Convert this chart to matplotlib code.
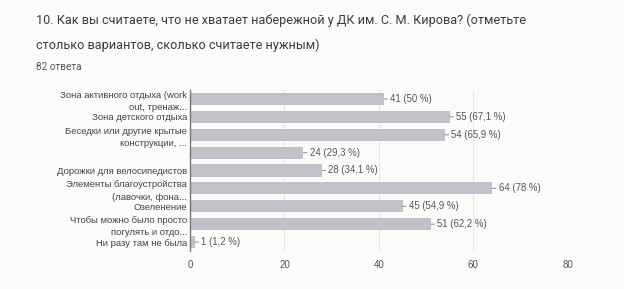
import matplotlib
matplotlib.use("Agg")
import matplotlib.pyplot as plt

title = "10. Как вы считаете, что не хватает набережной у ДК им. С. М. Кирова? (отметьте\nстолько вариантов, сколько считаете нужным)"
subtitle = "82 ответа"
categories = [
    "Зона активного отдыха (work\nout, тренаж...",
    "Зона детского отдыха",
    "Беседки или другие крытые\nконструкции, ...",
    "",
    "Дорожки для велосипедистов",
    "Элементы благоустройства\n(лавочки, фона...",
    "Озеленение",
    "Чтобы можно было просто\nпогулять и отдо...",
    "Ни разу там не была",
]
values = [41, 55, 54, 24, 28, 64, 45, 51, 1]
percents = ["50", "67,1", "65,9", "29,3", "34,1", "78", "54,9", "62,2", "1,2"]
xticks = [0, 20, 40, 60, 80]

bg = "#fbfbfa"
fig = plt.figure(figsize=(6.24, 2.89), dpi=100, facecolor=bg)
ax = fig.add_axes([0.3045, 0.1315, 0.6055, 0.5571], facecolor=bg)

y = list(range(len(values)))
ax.barh(y, values, height=0.68, color="#c0c1c9", zorder=2)
ax.set_ylim(len(values) - 0.5, -0.5)
ax.set_xlim(0, 80)
ax.set_xticks(xticks)
ax.set_xticklabels([str(t) for t in xticks], fontsize=7, color="#555555", family="Liberation Sans")
ax.set_yticks(y)
ax.set_yticklabels(categories, fontsize=6.8, color="#444444", family="Liberation Sans", linespacing=1.45)
ax.tick_params(axis="both", length=0, pad=2)
ax.tick_params(axis="x", pad=6.5)
ax.grid(axis="x", color="#e8e8e8", linewidth=0.8, zorder=0)
for s in ["top", "right", "bottom"]:
    ax.spines[s].set_visible(False)
ax.spines["left"].set_color("#777777")
ax.spines["left"].set_linewidth(1.0)
ax.spines["left"].set_zorder(3)

for yi, v, p in zip(y, values, percents):
    ax.annotate(f"{v} ({p} %)", xy=(v, yi), xytext=(4.5, 0), textcoords="offset points",
                va="center", ha="left", fontsize=6.9, color="#555555", family="Liberation Sans",
                arrowprops=dict(arrowstyle="-", color="#999999", lw=0.8, shrinkA=0, shrinkB=0))

fig.text(36 / 624, 1 - 13.5 / 289, title, fontsize=9.1, family="Roboto", color="#3c3c3c",
         va="top", ha="left", linespacing=2.08)
fig.text(36 / 624, 1 - 67 / 289, subtitle, fontsize=7.2, family="Roboto", color="#555555",
         va="center", ha="left")

fig.savefig("out.png", dpi=100, facecolor=bg)
